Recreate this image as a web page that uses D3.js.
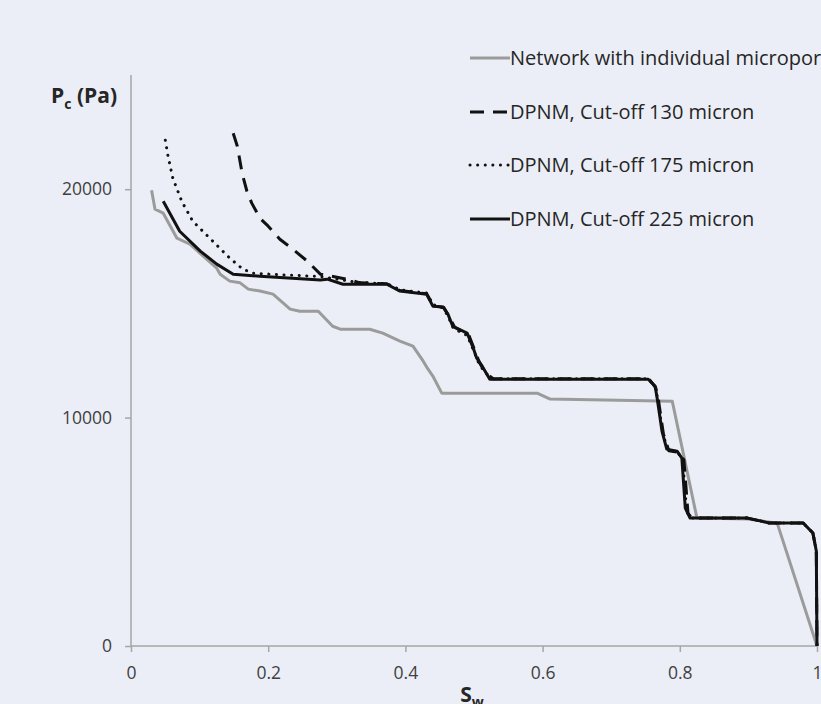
<!DOCTYPE html>
<html>
<head>
<meta charset="utf-8">
<script src="https://cdn.jsdelivr.net/npm/d3@7"></script>
<style>
  html, body { margin: 0; padding: 0; background: #ebeef6; overflow: hidden; }
  svg { display: block; }
</style>
</head>
<body>
<script>
// Canvas setup
const canvasWidth = 821;
const canvasHeight = 704;

// Data: [Sw, Pc (Pa)]
const networkPts = [
  [0.030, 19950], [0.035, 19125], [0.047, 18950], [0.067, 17855], [0.086, 17590],
  [0.125, 16540], [0.130, 16280], [0.144, 15975], [0.159, 15900], [0.171, 15625],
  [0.188, 15540], [0.207, 15405], [0.222, 15010], [0.232, 14750], [0.246, 14660],
  [0.273, 14660], [0.294, 14000], [0.305, 13870], [0.348, 13870], [0.367, 13700],
  [0.392, 13350], [0.411, 13130], [0.426, 12470], [0.433, 12120], [0.440, 11820],
  [0.453, 11070], [0.592, 11070], [0.611, 10810], [0.789, 10720], [0.825, 5600],
  [0.899, 5560], [0.942, 5380], [1.000, 0]
];

const cut130Pts = [
  [0.149, 22450], [0.155, 21880], [0.162, 20700], [0.169, 19910], [0.176, 19390],
  [0.188, 18730], [0.200, 18380], [0.217, 17810], [0.236, 17370], [0.257, 16850],
  [0.276, 16280], [0.315, 16060], [0.334, 15900], [0.373, 15860], [0.392, 15560],
  [0.431, 15420], [0.441, 14900], [0.456, 14820], [0.464, 14400], [0.472, 13950],
  [0.492, 13650], [0.501, 12950], [0.508, 12400], [0.517, 11950], [0.528, 11700],
  [0.755, 11700], [0.765, 11300], [0.769, 10750], [0.776, 9300], [0.784, 8550],
  [0.798, 8480], [0.806, 8150], [0.812, 5800], [0.818, 5600], [0.899, 5600],
  [0.931, 5380], [0.980, 5380], [0.994, 4950], [0.999, 4160], [1.000, 0]
];

const cut175Pts = [
  [0.050, 22145], [0.054, 21440], [0.061, 20480], [0.074, 19470], [0.090, 18600],
  [0.115, 17850], [0.144, 16980], [0.163, 16500], [0.178, 16320], [0.220, 16250],
  [0.276, 16180], [0.330, 15920], [0.373, 15860], [0.392, 15600], [0.431, 15450],
  [0.440, 14950], [0.455, 14800], [0.462, 14450], [0.470, 13900], [0.490, 13600],
  [0.500, 12900], [0.506, 12450], [0.515, 12000], [0.527, 11700], [0.754, 11700],
  [0.764, 11350], [0.768, 10800], [0.775, 9350], [0.782, 8600], [0.796, 8500],
  [0.804, 8200], [0.810, 5900], [0.816, 5600], [0.899, 5600], [0.931, 5380],
  [0.980, 5380], [0.994, 4950], [0.999, 4160], [1.000, 0]
];

const cut225Pts = [
  [0.047, 19475], [0.071, 18160], [0.101, 17290], [0.125, 16720], [0.149, 16280],
  [0.188, 16190], [0.276, 16020], [0.286, 16060], [0.309, 15840], [0.373, 15840],
  [0.392, 15540], [0.431, 15400], [0.440, 14880], [0.455, 14840], [0.462, 14530],
  [0.469, 14000], [0.490, 13700], [0.499, 13040], [0.504, 12600], [0.512, 12250],
  [0.523, 11680], [0.754, 11680], [0.764, 11380], [0.767, 10850], [0.774, 9410],
  [0.781, 8620], [0.796, 8530], [0.803, 8230], [0.808, 6040], [0.815, 5600],
  [0.899, 5600], [0.931, 5380], [0.980, 5380], [0.994, 4950], [0.999, 4160],
  [1.000, 0]
];

const seriesNames = [
  "Network with individual micropores",
  "DPNM, Cut-off 130 micron",
  "DPNM, Cut-off 175 micron",
  "DPNM, Cut-off 225 micron"
];
const xTicks = [0, 0.2, 0.4, 0.6, 0.8, 1];
const yTicks = [0, 10000, 20000];

const series = [
  {name: seriesNames[0], pts: networkPts, color: "#9b9b9b", width: 3, dash: null, cap: "butt"},
  {name: seriesNames[1], pts: cut130Pts, color: "#111", width: 3, dash: "14,9", cap: "butt"},
  {name: seriesNames[2], pts: cut175Pts, color: "#111", width: 3, dash: "0.1,7.5", cap: "round"},
  {name: seriesNames[3], pts: cut225Pts, color: "#111", width: 3, dash: null, cap: "butt"}
];

const svg = d3.select('body')
    .append('svg')
    .attr('width', canvasWidth)
    .attr('height', canvasHeight);

const fontFam = "'Open Sans', 'Noto Sans', sans-serif";

// Scales
const xScale = d3.scaleLinear().domain([0, 1]).range([131, 817]);
const yScale = d3.scaleLinear().domain([0, 25000]).range([646, 75]);

// Y axis
const yAxis = svg.append('g')
    .attr('transform', `translate(${xScale(0)},0)`)
    .call(d3.axisLeft(yScale).tickValues(yTicks).tickSize(6).tickPadding(13).tickFormat(d3.format('d')));
yAxis.select('.domain').attr('d', `M0,${yScale(25000)}V${yScale(0)}`);

// X axis
const xAxis = svg.append('g')
    .attr('transform', `translate(0,${yScale(0)})`)
    .call(d3.axisBottom(xScale).tickValues(xTicks).tickSize(6).tickPadding(15).tickFormat(d => d));
xAxis.select('.domain').attr('d', `M${xScale(0)},0H${xScale(1)}`);

svg.selectAll('.domain, .tick line')
    .attr('stroke', '#a6a6a6')
    .attr('stroke-width', 1.5);
svg.selectAll('.tick text')
    .attr('fill', '#404040')
    .style('font-family', fontFam)
    .style('font-size', '17.5px');

// Curves
const lineFn = d3.line()
    .x(d => xScale(d[0]))
    .y(d => yScale(d[1]));

svg.append('g').selectAll('path')
    .data(series)
    .join('path')
    .attr('d', d => lineFn(d.pts))
    .attr('fill', 'none')
    .attr('stroke', d => d.color)
    .attr('stroke-width', d => d.width)
    .attr('stroke-dasharray', d => d.dash)
    .attr('stroke-linecap', d => d.cap)
    .attr('stroke-linejoin', 'round');

// Legend
const legend = svg.append('g');
const rowY = [58, 112, 165, 219];
series.forEach((s, i) => {
  legend.append('line')
    .attr('x1', 470).attr('x2', 510)
    .attr('y1', rowY[i]).attr('y2', rowY[i])
    .attr('stroke', s.color)
    .attr('stroke-width', s.width)
    .attr('stroke-dasharray', s.dash)
    .attr('stroke-linecap', s.cap);
  legend.append('text')
    .attr('x', 510).attr('y', rowY[i])
    .attr('dy', '0.35em')
    .attr('fill', '#262626')
    .style('font-family', fontFam)
    .style('font-size', '20px')
    .text(s.name);
});

// Axis titles
const yTitle = svg.append('text')
    .attr('x', 117).attr('y', 103)
    .attr('text-anchor', 'end')
    .attr('fill', '#262626')
    .style('font-family', fontFam)
    .style('font-size', '21px')
    .style('font-weight', 'bold');
yTitle.append('tspan').text('P');
yTitle.append('tspan').attr('dy', 6).style('font-size', '14px').text('c');
yTitle.append('tspan').attr('dy', -6).text(' (Pa)');

const xTitle = svg.append('text')
    .attr('x', 472).attr('y', 702)
    .attr('text-anchor', 'middle')
    .attr('fill', '#262626')
    .style('font-family', fontFam)
    .style('font-size', '21px')
    .style('font-weight', 'bold');
xTitle.append('tspan').text('S');
xTitle.append('tspan').attr('dy', 5).style('font-size', '14px').text('w');
</script>
</body>
</html>
